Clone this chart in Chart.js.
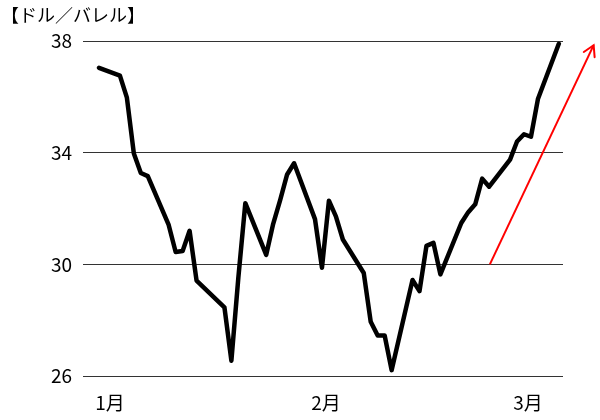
<!DOCTYPE html>
<html><head><meta charset="utf-8">
<script src="https://cdn.jsdelivr.net/npm/chart.js@4/dist/chart.umd.min.js"></script>
<style>html,body{margin:0;padding:0;background:#fff}#wrap{width:600px;height:420px;position:relative}</style>
</head><body><div id="wrap"><canvas id="c"></canvas></div>
<script>
const unitLabel = "【ドル／バレル】";
const monthLabels = ["1月", "2月", "3月"];
const monthStartDays = [0, 31, 60];
const days = [0,3,4,5,6,7,10,11,12,13,14,18,19,20,21,24,25,26,27,28,31,32,33,34,35,38,39,40,41,42,45,46,47,48,49,52,53,54,55,56,59,60,61,62,63,66];
const prices = [37.04,36.76,35.97,33.97,33.27,33.16,31.41,30.44,30.48,31.20,29.42,28.46,26.55,29.53,32.19,30.34,31.45,32.30,33.22,33.62,31.62,29.88,32.28,31.72,30.89,29.69,27.94,27.45,27.45,26.21,29.44,29.04,30.66,30.77,29.64,31.48,31.87,32.15,33.07,32.78,33.75,34.40,34.66,34.57,35.92,37.90];
const yTicks = [26, 30, 34, 38];
const arrowDays = [56.1, 71.0];
const arrowPrices = [30, 37.85];

const FONT = "'Noto Sans CJK JP', 'Noto Sans', sans-serif";

const titlePlugin = {
  id: 'unitTitle',
  afterDraw(chart) {
    const ctx = chart.ctx;
    ctx.save();
    ctx.font = "18px " + FONT;
    ctx.fillStyle = '#000';
    ctx.textBaseline = 'middle';
    ctx.textAlign = 'left';
    ctx.fillText(unitLabel, 1, 15);
    ctx.restore();
  }
};

const arrowPlugin = {
  id: 'arrowHead',
  afterDatasetsDraw(chart) {
    const meta = chart.getDatasetMeta(1);
    if (!meta || meta.data.length < 2) return;
    const p0 = meta.data[meta.data.length - 2], p1 = meta.data[meta.data.length - 1];
    const ang = Math.atan2(p1.y - p0.y, p1.x - p0.x);
    const len = 12, spread = Math.PI / 6;
    const ctx = chart.ctx;
    ctx.save();
    ctx.strokeStyle = '#ff0000';
    ctx.lineWidth = 2;
    ctx.lineCap = 'round';
    ctx.lineJoin = 'miter';
    ctx.beginPath();
    ctx.moveTo(p1.x - len * Math.cos(ang - spread), p1.y - len * Math.sin(ang - spread));
    ctx.lineTo(p1.x, p1.y);
    ctx.lineTo(p1.x - len * Math.cos(ang + spread), p1.y - len * Math.sin(ang + spread));
    ctx.stroke();
    ctx.restore();
  }
};

new Chart(document.getElementById('c'), {
  type: 'line',
  data: {
    datasets: [
      {
        data: days.map((d, i) => ({ x: d, y: prices[i] })),
        borderColor: '#000',
        borderWidth: 4.5,
        borderJoinStyle: 'round',
        borderCapStyle: 'round',
        pointRadius: 0,
        tension: 0,
        fill: false
      },
      {
        data: arrowDays.map((d, i) => ({ x: d, y: arrowPrices[i] })),
        borderColor: '#ff0000',
        borderWidth: 2,
        pointRadius: 0,
        tension: 0,
        fill: false,
        clip: false
      }
    ]
  },
  options: {
    responsive: true,
    maintainAspectRatio: false,
    animation: false,
    layout: { padding: { top: 41, right: 37, left: 0, bottom: 0 } },
    plugins: { legend: { display: false }, tooltip: { enabled: false }, title: { display: false } },
    scales: {
      x: {
        type: 'linear',
        min: -2.3,
        max: 66.6,
        grid: { display: false, drawTicks: false },
        border: { display: false },
        afterBuildTicks(axis) { axis.ticks = monthStartDays.map(v => ({ value: v })); },
        afterFit(axis) { axis.height = 44; },
        ticks: {
          callback: (v, i) => monthLabels[i],
          color: '#000',
          font: { family: FONT, size: 19 },
          padding: 15,
          labelOffset: 11,
          maxRotation: 0,
          autoSkip: false
        }
      },
      y: {
        min: 26,
        max: 38,
        grid: { color: '#333', lineWidth: 1, drawTicks: false },
        border: { display: false },
        afterBuildTicks(axis) { axis.ticks = yTicks.map(v => ({ value: v })); },
        afterFit(axis) { axis.width = 83; },
        ticks: {
          color: '#000',
          font: { family: FONT, size: 19 },
          padding: 11
        }
      }
    }
  },
  plugins: [titlePlugin, arrowPlugin]
});
</script>
</body></html>
